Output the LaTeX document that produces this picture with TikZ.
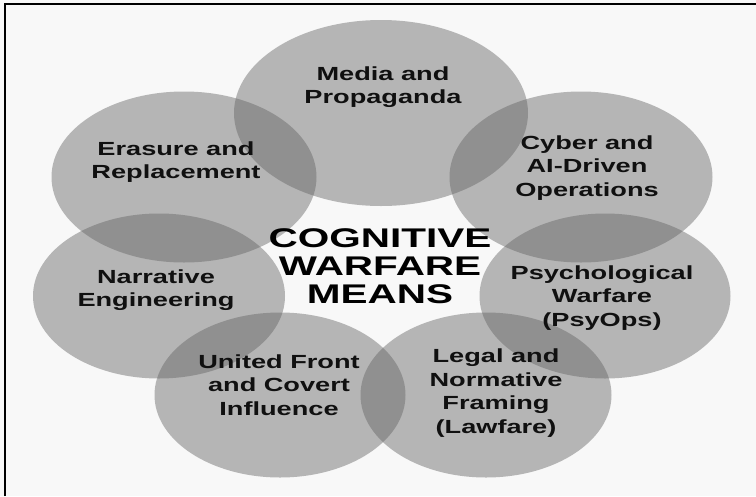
\documentclass[tikz,border=0pt]{standalone}
\usepackage{fontspec}
\usetikzlibrary{shapes.geometric}
\newfontfamily\lblfont[FakeStretch=1.43]{Liberation Sans Bold}
\newfontfamily\ttlfont[FakeStretch=1.5]{Liberation Sans Bold}
\definecolor{bgc}{RGB}{248,248,248}
\definecolor{blobc}{RGB}{100,100,100}
\definecolor{txtc}{RGB}{16,16,16}
\tikzset{
  blob/.style={ellipse, fill=blobc, fill opacity=0.45, draw=none, inner sep=0pt},
  lbl/.style={align=center, text=txtc, inner sep=0pt, font=\lblfont\fontsize{19}{23.5}\selectfont},
  ttl/.style={align=center, text=black, inner sep=0pt, font=\ttlfont\fontsize{27}{28}\selectfont},
  frameline/.style={line width=2pt, draw=black}
}
\begin{document}
\begin{tikzpicture}[x=1pt,y=-1pt]
\useasboundingbox (0,0) rectangle (756,496);
\fill[bgc] (0,0) rectangle (756,496);
% ellipses
\node[blob, minimum width=294, minimum height=186] (e1) at (381,113) {};
\node[blob, minimum width=265, minimum height=171] (e2) at (184,177) {};
\node[blob, minimum width=263, minimum height=171] (e3) at (581,177) {};
\node[blob, minimum width=252, minimum height=165] (e4) at (159,296) {};
\node[blob, minimum width=251, minimum height=165] (e5) at (605,296) {};
\node[blob, minimum width=251, minimum height=165] (e6) at (280,395) {};
\node[blob, minimum width=251, minimum height=165] (e7) at (486,395) {};
% labels
\node[lbl] (t1) at (383,87) {Media and\\Propaganda};
\node[lbl] (t2) at (176,162) {Erasure and\\Replacement};
\node[lbl] (t3) at (587,168) {Cyber and\\AI-Driven\\Operations};
\node[lbl] (t4) at (156,290) {Narrative\\Engineering};
\node[lbl] (t5) at (602,298) {Psychological\\Warfare\\(PsyOps)};
\node[lbl] (t6) at (279,385) {United Front\\and Covert\\Influence};
\node[lbl] (t7) at (496,393) {Legal and\\Normative\\Framing\\(Lawfare)};
\node[ttl] (c) at (380,266) {COGNITIVE\\WARFARE\\MEANS};
% frame (left and top edges)
\coordinate (fa) at (5,496);
\coordinate (fb) at (5,4);
\coordinate (fc) at (756,4);
\draw[frameline] (fa) -- (fb) -- (fc);
\end{tikzpicture}
\end{document}
